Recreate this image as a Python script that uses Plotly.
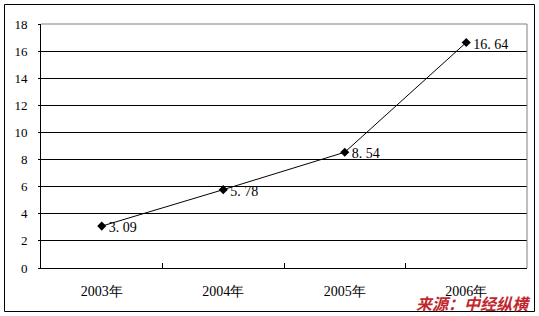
import plotly.graph_objects as go

years = ["2003年", "2004年", "2005年", "2006年"]
values = [3.09, 5.78, 8.54, 16.64]
labels = ["  3. 09", "  5. 78", "  8. 54", "  16. 64"]
y_ticks = [0, 2, 4, 6, 8, 10, 12, 14, 16, 18]
source = "来源：中经纵横"

fig = go.Figure()
fig.add_trace(go.Scatter(
    x=years, y=values, mode="lines+markers",
    line=dict(color="black", width=1),
    marker=dict(symbol="diamond", size=7, color="black"),
    cliponaxis=False,
))
fig.add_trace(go.Scatter(
    x=years, y=[v - 0.2 for v in values], mode="text",
    text=labels, textposition="middle right",
    textfont=dict(family="Liberation Serif", size=14, color="black"),
    cliponaxis=False, hoverinfo="skip",
))

W, H = 539, 316
L, R, T, B = 41, 12, 24, 48
pw, ph = W - L - R, H - T - B

def px(x):
    return (x - L) / pw

def py(y):
    return (H - B - y) / ph

fig.update_layout(
    width=W, height=H,
    margin=dict(l=L, r=R, t=T, b=B),
    paper_bgcolor="white", plot_bgcolor="white",
    showlegend=False,
    font=dict(family="Liberation Serif", size=12, color="black"),
    xaxis=dict(
        type="category", tickson="boundaries", ticks="inside", ticklen=5,
        tickcolor="black", showline=True, linecolor="black", linewidth=1,
        showgrid=False, range=[-0.5, 3.5], ticklabelstandoff=10,
        tickfont=dict(family="Liberation Serif", size=14),
    ),
    yaxis=dict(
        range=[0, 18], tickvals=y_ticks, ticks="outside", ticklen=2,
        tickcolor="black", showline=True, linecolor="black", linewidth=1,
        showgrid=True, gridcolor="black", gridwidth=1, zeroline=False,
        ticklabelstandoff=8,
        tickfont=dict(family="Liberation Serif", size=13),
    ),
    shapes=[
        dict(type="line", xref="paper", yref="paper", x0=0, x1=1, y0=1, y1=1,
             line=dict(color="#808080", width=1)),
        dict(type="line", xref="paper", yref="paper", x0=1, x1=1, y0=0, y1=1,
             line=dict(color="#808080", width=1)),
        dict(type="rect", xref="paper", yref="paper",
             x0=px(4.5), x1=px(534.5), y0=py(311.5), y1=py(4.5),
             line=dict(color="black", width=1), layer="below"),
    ],
    annotations=[
        dict(text="<b><i>" + source + "</i></b>", xref="paper", yref="paper",
             x=px(533), y=py(303), xanchor="right", yanchor="middle",
             showarrow=False,
             font=dict(family="Noto Sans CJK SC", size=16, color="#C0282D")),
    ],
)

fig.write_html("out.html")
